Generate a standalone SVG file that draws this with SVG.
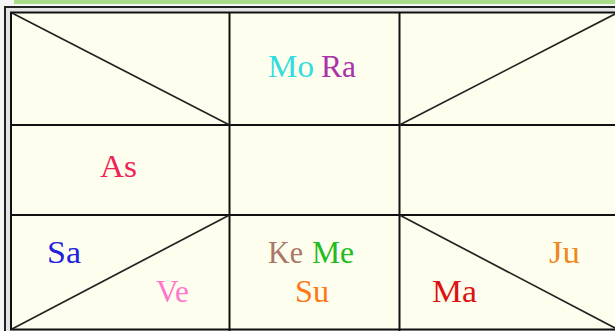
<svg xmlns="http://www.w3.org/2000/svg" width="615" height="331" viewBox="0 0 615 331">
<style>
.lbl{font-family:"Liberation Serif","Times New Roman",serif;font-size:31px}
.grid{stroke:#111;stroke-width:2;fill:none}
.diag{stroke:#222;stroke-width:1.7;fill:none}
</style>
<rect x="0" y="0" width="615" height="331" fill="#f6f6f6"/>
<rect x="14" y="0" width="601" height="4" fill="#a8dc88"/>
<!-- frame -->
<rect x="5" y="7" width="620" height="340" fill="#e4e4e4" stroke="#222" stroke-width="2"/>
<rect x="11" y="12.5" width="606" height="317" fill="#fefeee" stroke="#111" stroke-width="2"/>
<g id="connectors">
  <line class="grid" x1="229.5" y1="12.5" x2="229.5" y2="331"/>
  <line class="grid" x1="399.5" y1="12.5" x2="399.5" y2="331"/>
  <line class="grid" x1="11" y1="125" x2="617" y2="125"/>
  <line class="grid" x1="11" y1="215" x2="617" y2="215"/>
  <line class="diag" x1="12" y1="13" x2="229.5" y2="125"/>
  <line class="diag" x1="399.5" y1="125" x2="617" y2="13"/>
  <line class="diag" x1="229.5" y1="215" x2="12" y2="329"/>
  <line class="diag" x1="399.5" y1="215" x2="617" y2="329"/>
</g>
<g id="house-top">
  <text class="lbl" x="268" y="77" fill="#33dddd" textLength="46" lengthAdjust="spacingAndGlyphs">Mo</text>
  <text class="lbl" x="321" y="77" fill="#aa33aa" textLength="35" lengthAdjust="spacingAndGlyphs">Ra</text>
</g>
<g id="house-left">
  <text class="lbl" x="100" y="177" fill="#ee2255" textLength="37" lengthAdjust="spacingAndGlyphs">As</text>
</g>
<g id="house-bottom-left-outer">
  <text class="lbl" x="47" y="263" fill="#2222dd" textLength="34" lengthAdjust="spacingAndGlyphs">Sa</text>
</g>
<g id="house-bottom-left-inner">
  <text class="lbl" x="156" y="301.5" fill="#ff77cc" textLength="33" lengthAdjust="spacingAndGlyphs">Ve</text>
</g>
<g id="house-bottom">
  <text class="lbl" x="268" y="262.5" fill="#aa7766" textLength="35" lengthAdjust="spacingAndGlyphs">Ke</text>
  <text class="lbl" x="312" y="262.5" fill="#22bb22" textLength="42" lengthAdjust="spacingAndGlyphs">Me</text>
  <text class="lbl" x="295" y="301.5" fill="#ff7711" textLength="34" lengthAdjust="spacingAndGlyphs">Su</text>
</g>
<g id="house-bottom-right-inner">
  <text class="lbl" x="432" y="301.5" fill="#dd1111" textLength="45" lengthAdjust="spacingAndGlyphs">Ma</text>
</g>
<g id="house-bottom-right-outer">
  <text class="lbl" x="549" y="262.5" fill="#ee8822" textLength="31" lengthAdjust="spacingAndGlyphs">Ju</text>
</g>
</svg>
